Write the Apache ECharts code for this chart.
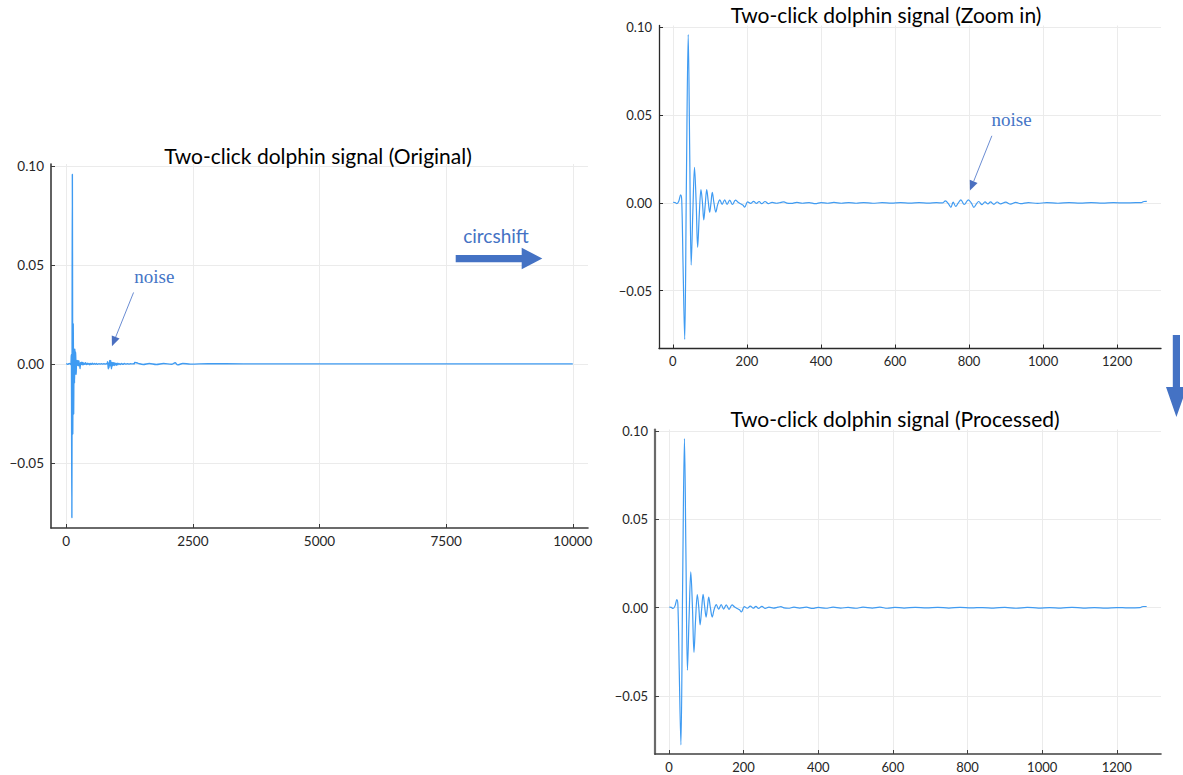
<!DOCTYPE html>
<html>
<head>
<meta charset="utf-8">
<script src="https://cdn.jsdelivr.net/npm/echarts@6/dist/echarts.min.js"></script>
<style>
  html, body { margin: 0; padding: 0; background: #fff; }
  #chart { width: 1183px; height: 775px; }
</style>
</head>
<body>
<div id="chart"></div>
<script>
// ---- Signal samples: [sample index, amplitude] ----

// The click itself, as it appears after the shift (samples 1..308)
const clickHead = [
  [1, 0.0003], [6, 0.0002], [11, -0.0004], [16, 0.0009], [21, 0.0046], [24, 0.0015],
  [27.5, -0.035], [32, -0.0777], [36.5, 0.010], [41.5, 0.0958], [45.5, 0.030], [49.5, -0.0354],
  [54, -0.005], [58.5, 0.0203], [63, 0.0], [67, -0.0253], [71.5, -0.006], [76, 0.0075],
  [80, 0.0], [83.5, -0.0097], [87.5, -0.001], [91.5, 0.0076], [95.5, 0.001], [99.5, -0.0053],
  [103, 0.0], [106.5, 0.0060], [111, 0.0], [116, -0.0053], [121, -0.001], [127, 0.0017],
  [133, -0.0008], [140, 0.0017], [146.5, -0.0008], [153.5, 0.0016], [161, -0.0009], [169, 0.0016],
  [176, 0.0004], [183, -0.0005], [189, -0.0012], [194, -0.0024], [202, 0.0006], [210, -0.0003],
  [218, 0.0009], [226, -0.0003], [233, 0.0008], [240, -0.0004], [249, 0.0008], [258, -0.0004],
  [268, 0.0003], [280, -0.0002], [292, 0.0003], [300, 0.0006], [308, -0.0001]
];

// Quiet stretch between the click and the second (noise) burst
const zoomMid = [
  [320, -0.0003], [335, 0.0003], [350, -0.0002], [368, 0.0002], [385, -0.0004], [400, 0.0002],
  [418, -0.0002], [435, 0.0003], [455, -0.0002], [475, 0.0002], [495, -0.0002], [515, 0.0002],
  [540, -0.0002], [565, 0.0001], [590, -0.0001], [615, 0.0001], [640, -0.0001], [665, 0.0001],
  [690, -0.0001], [712, 0.0001], [728, 0.0]
];

// Noise burst and the rest of the 1280-sample window
const zoomNoise = [
  [736, 0.0011], [744, -0.0004], [751, -0.0025], [757, 0.0004], [764, -0.0020], [771, 0.0],
  [778, 0.0017], [787, -0.0009], [798, 0.0017], [806, 0.0], [813, -0.0025], [820, -0.0005],
  [826, 0.0008], [835, -0.0010], [843, 0.0006], [851, -0.0006], [858, 0.0006], [867, -0.0008],
  [876, 0.0005], [885, -0.0006], [899, 0.0004], [912, -0.0007], [926, 0.0003], [939, -0.0004],
  [960, 0.0002], [985, -0.0003], [1010, 0.0002], [1040, -0.0002], [1070, 0.0002], [1100, -0.0001],
  [1130, 0.0001], [1160, -0.0001], [1190, 0.0001], [1220, 0.0], [1250, 0.0001], [1265, 0.0001],
  [1272, 0.0008], [1280, 0.0009]
];

// Cleaned window: noise burst removed
const processedTail = [
  [320, -0.0003], [335, 0.0003], [350, -0.0002], [368, 0.0003], [385, -0.0004], [400, 0.0002],
  [420, -0.0003], [440, 0.0003], [460, -0.0002], [480, 0.0002], [500, -0.0003], [520, 0.0003],
  [545, -0.0002], [565, 0.0003], [585, -0.0003], [605, 0.0002], [630, -0.0002], [660, 0.0002],
  [690, -0.0001], [720, 0.0002], [750, -0.0002], [780, 0.0002], [810, -0.0001], [840, 0.0001],
  [870, -0.0002], [900, 0.0002], [930, -0.0003], [960, 0.0002], [990, -0.0002], [1020, 0.0001],
  [1050, -0.0002], [1080, 0.0002], [1110, -0.0002], [1140, 0.0001], [1170, -0.0002], [1200, 0.0001],
  [1230, -0.0001], [1262, 0.0], [1270, 0.0007], [1280, 0.0007]
];

// Full recording: samples before the click and the long quiet tail
const originalLead = [[1, 0.0002], [30, -0.0002], [60, 0.0002], [80, 0.0]];
const originalTail = [
  [1420, 0.0003], [1520, -0.0003], [1640, 0.0002], [1780, -0.0003], [1920, 0.0002],
  [2080, -0.0002], [2150, 0.0006], [2200, -0.0005], [2300, 0.0002], [2450, -0.0001],
  [2800, 0.0001], [3500, 0.0], [10000, 0.0]
];

// circshift amount (samples) between the full recording and the zoomed window
const SHIFT = 80;

// ---- Axis ticks ----
const yTicks = [-0.05, 0, 0.05, 0.10];
const xTicksLong = [0, 2500, 5000, 7500, 10000];
const xTicksShort = [0, 200, 400, 600, 800, 1000, 1200];

// ---- Series assembled from the arrays above ----
const zoomSignal = clickHead.concat(zoomMid, zoomNoise);
const processedSignal = clickHead.concat(processedTail);
const originalSignal = originalLead.concat(
  zoomSignal.map(p => [p[0] + SHIFT, p[1]]),
  originalTail
);

// ---- Layout / style ----
const FONT = 'Lato, "Liberation Sans", sans-serif';
const LINE_COLOR = '#3f9bf2';
const ACCENT = '#4472C4';
const yLimits = [-0.0829, 0.1010];
const xLimitsLong = [-300, 10300];
const xLimitsShort = [-37.4, 1318.4];

const panels = [
  { grid: { left: 51, top: 164, width: 537, height: 364 }, xLim: xLimitsLong, xTicks: xTicksLong,
    title: 'Two-click dolphin signal (Original)', titlePos: [318, 155], lw: 1.4,
    axisColor: '#3a3a3a', axisWidth: 1.6, yAxisColor: '#3a3a3a', yAxisWidth: 1.6, font: 13.5 },
  { grid: { left: 659, top: 25.5, width: 502, height: 323 }, xLim: xLimitsShort, xTicks: xTicksShort,
    title: 'Two-click dolphin signal (Zoom in)', titlePos: [886, 14], lw: 1.2,
    axisColor: '#2a2a2a', axisWidth: 1.3, yAxisColor: '#2a2a2a', yAxisWidth: 1.3, font: 13 },
  { grid: { left: 655, top: 429.5, width: 506, height: 324.5 }, xLim: xLimitsShort, xTicks: xTicksShort,
    title: 'Two-click dolphin signal (Processed)', titlePos: [895, 418], lw: 1.2,
    axisColor: '#404040', axisWidth: 1.6, yAxisColor: '#6a6a6a', yAxisWidth: 2.2, font: 13 }
];
const seriesData = [originalSignal, zoomSignal, processedSignal];

function fmtY(v) {
  if (Math.abs(v) < 1e-9) return '0.00';
  return (v < 0 ? '\u2212' : '') + Math.abs(v).toFixed(2);
}

const option = {
  animation: false,
  backgroundColor: '#ffffff',
  grid: panels.map(p => p.grid),
  xAxis: panels.map((p, i) => ({
    type: 'value', gridIndex: i, min: p.xLim[0], max: p.xLim[1],
    axisLine: { show: true, onZero: false, lineStyle: { color: p.axisColor, width: p.axisWidth } },
    axisTick: { show: true, inside: true, length: 4, customValues: p.xTicks,
                lineStyle: { color: p.axisColor, width: 1 } },
    axisLabel: { customValues: p.xTicks, margin: 6, color: '#262626', fontSize: p.font,
                 fontFamily: FONT, formatter: v => String(Math.round(v)) },
    splitLine: { show: true, lineStyle: { color: '#ebebeb', width: 1 } }
  })),
  yAxis: panels.map((p, i) => ({
    type: 'value', gridIndex: i, min: yLimits[0], max: yLimits[1],
    axisLine: { show: true, onZero: false, lineStyle: { color: p.yAxisColor, width: p.yAxisWidth } },
    axisTick: { show: true, inside: true, length: 4, customValues: yTicks,
                lineStyle: { color: p.axisColor, width: 1 } },
    axisLabel: { customValues: yTicks, margin: 7, color: '#262626', fontSize: p.font,
                 fontFamily: FONT, formatter: fmtY },
    splitLine: { show: true, lineStyle: { color: '#ebebeb', width: 1 } }
  })),
  series: panels.map((p, i) => ({
    type: 'line', xAxisIndex: i, yAxisIndex: i, data: seriesData[i],
    showSymbol: false, symbol: 'none', smooth: 0.35, silent: true,
    lineStyle: { color: LINE_COLOR, width: p.lw }, itemStyle: { color: LINE_COLOR }
  }))
};

const chart = echarts.init(document.getElementById('chart'), null,
  { renderer: 'svg', width: 1183, height: 775 });
chart.setOption(option);

// ---- Titles and annotations ----
const graphics = [];
panels.forEach(p => {
  graphics.push({
    type: 'text', x: p.titlePos[0], y: p.titlePos[1], silent: true,
    style: { text: p.title, fill: '#000', font: '21px ' + FONT,
             textAlign: 'center', textVerticalAlign: 'middle' }
  });
});

// "noise" callouts placed in each panel's data coordinates
const noiseNotes = [
  { grid: 0, label: [1739, 0.044], from: [1330, 0.0361], to: [903, 0.0089] },
  { grid: 1, label: [915, 0.0473], from: [861.6, 0.0382], to: [802.4, 0.0070] }
];
noiseNotes.forEach(n => {
  const lp = chart.convertToPixel({ gridIndex: n.grid }, n.label);
  const a = chart.convertToPixel({ gridIndex: n.grid }, n.from);
  const b = chart.convertToPixel({ gridIndex: n.grid }, n.to);
  const dx = b[0] - a[0], dy = b[1] - a[1];
  const len = Math.hypot(dx, dy), ux = dx / len, uy = dy / len;
  const headLen = 10, headHalf = 4.2;
  const base = [b[0] - ux * headLen, b[1] - uy * headLen];
  graphics.push({
    type: 'text', x: lp[0], y: lp[1], silent: true,
    style: { text: 'noise', fill: '#4575c6', font: '19px "Liberation Serif", serif',
             textAlign: 'center', textVerticalAlign: 'middle' }
  });
  graphics.push({
    type: 'line', silent: true,
    shape: { x1: a[0], y1: a[1], x2: base[0], y2: base[1] },
    style: { stroke: '#6b8dd3', lineWidth: 1 }
  });
  graphics.push({
    type: 'polygon', silent: true,
    shape: { points: [b, [base[0] - uy * headHalf, base[1] + ux * headHalf],
                          [base[0] + uy * headHalf, base[1] - ux * headHalf]] },
    style: { fill: '#4a6fc0' }
  });
});

// circshift label with its block arrow, and the downward arrow between right panels
graphics.push({
  type: 'text', x: 496, y: 235, silent: true,
  style: { text: 'circshift', fill: ACCENT, font: '19px ' + FONT,
           textAlign: 'center', textVerticalAlign: 'middle' }
});
graphics.push({
  type: 'polygon', silent: true,
  shape: { points: [[455.7, 255], [521.7, 255], [521.7, 247.7], [542.3, 258.5],
                    [521.7, 269.3], [521.7, 262.3], [455.7, 262.3]] },
  style: { fill: ACCENT }
});
graphics.push({
  type: 'polygon', silent: true,
  shape: { points: [[1172.8, 335], [1180, 335], [1180, 387], [1187, 387],
                    [1176.4, 417], [1166, 387], [1172.8, 387]] },
  style: { fill: ACCENT }
});

chart.setOption({ graphic: graphics });
</script>
</body>
</html>
